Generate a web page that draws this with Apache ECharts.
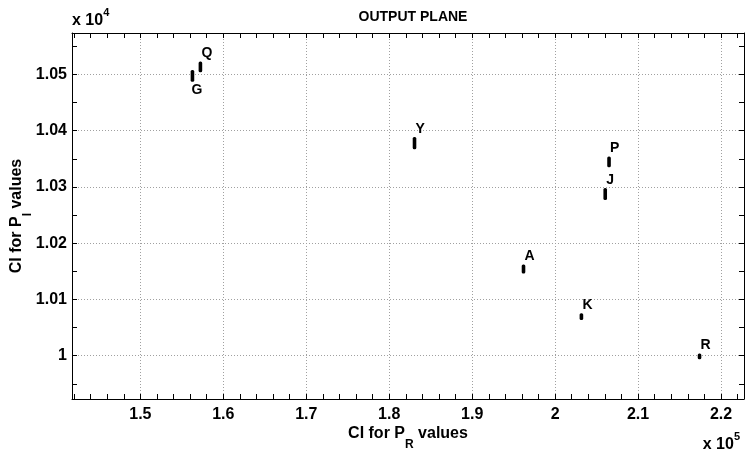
<!DOCTYPE html>
<html>
<head>
<meta charset="utf-8">
<script src="https://cdn.jsdelivr.net/npm/echarts@6.0.0/dist/echarts.min.js"></script>
<style>
    html, body { margin: 0; padding: 0; background: #fff; }
    #chart { width: 745px; height: 455px; }
</style>
</head>
<body>
<div id="chart"></div>
<script>
// points on the output plane (CI intervals)
var names = ['G', 'Q', 'Y', 'P', 'J', 'A', 'K', 'R'];
var ciPR = [156280, 157240, 183050, 206500, 206040, 196190, 203170, 217410];
var ciPILow = [10487, 10504, 10367, 10335, 10277, 10146, 10063.5, 9993.6];
var ciPIHigh = [10508, 10523, 10389, 10354, 10298, 10162, 10075.4, 10004];
var labelBelow = [true, false, false, false, false, false, false, false];

var xMajor = [150000, 160000, 170000, 180000, 190000, 200000, 210000, 220000];
var yMajor = [10000, 10100, 10200, 10300, 10400, 10500];

var xMin = 141760, xMax = 222770;
var yMin = 9923, yMax = 10573.8;

var xTicks = [];
for (var v = 142000; v <= 222000; v += 2000) xTicks.push(v);
var yTicks = [];
for (v = 9950; v <= 10550; v += 50) yTicks.push(v);

var fontName = '"Liberation Sans", Arial, sans-serif';

var data = [];
for (var i = 0; i < names.length; i++) {
    data.push([ciPR[i], ciPILow[i], ciPIHigh[i]]);
}

function boxAxis(pos, min, max, ticks, labels, fmt) {
    return {
        type: 'value',
        position: pos,
        min: min,
        max: max,
        axisLine: { show: true, onZero: false, lineStyle: { color: '#000', width: 1 } },
        axisTick: { show: true, inside: true, length: 5, customValues: ticks, lineStyle: { color: '#000' } },
        axisLabel: labels ? {
            show: true,
            customValues: labels,
            formatter: fmt,
            color: '#000',
            fontSize: 16,
            fontWeight: 'bold',
            fontFamily: fontName,
            margin: pos === 'bottom' ? 8 : 5
        } : { show: false },
        splitLine: { show: false }
    };
}

function gridAxis(pos, min, max, majors) {
    return {
        type: 'value',
        position: pos,
        min: min,
        max: max,
        axisLine: { show: false },
        axisTick: { show: false, customValues: majors },
        axisLabel: { show: false },
        splitLine: { show: true, lineStyle: { color: '#a0a0a0', width: 1, type: [1, 2] } }
    };
}

var xFmt = function (val) { return String(+(val / 1e5).toFixed(2)); };
var yFmt = function (val) { return String(+(val / 1e4).toFixed(2)); };

var nameRich = {
    a: { fontSize: 16, fontWeight: 'bold', fontFamily: fontName, color: '#000', lineHeight: 25, verticalAlign: 'top' },
    s: { fontSize: 12, fontWeight: 'bold', fontFamily: fontName, color: '#000', lineHeight: 14, verticalAlign: 'bottom' }
};

var xBottom = boxAxis('bottom', xMin, xMax, xTicks, xMajor, xFmt);
xBottom.name = '{a|CI for P}{s|R}{a| values}';
xBottom.nameLocation = 'middle';
xBottom.nameGap = 27;
xBottom.nameMoveOverlap = false;
xBottom.nameTextStyle = { color: '#000', fontFamily: fontName, rich: nameRich };

var yLeft = boxAxis('left', yMin, yMax, yTicks, yMajor, yFmt);
yLeft.name = '{a|CI for P}{s|I}{a| values}';
yLeft.nameLocation = 'middle';
yLeft.nameGap = 38;
yLeft.nameRotate = 90;
yLeft.nameMoveOverlap = false;
yLeft.nameTextStyle = { color: '#000', fontFamily: fontName, rich: nameRich };

var expRich = {
    a: { fontSize: 16, fontWeight: 'bold', fontFamily: fontName, fill: '#000', lineHeight: 22, verticalAlign: 'bottom' },
    s: { fontSize: 11, fontWeight: 'bold', fontFamily: fontName, fill: '#000', lineHeight: 12, verticalAlign: 'top' }
};

var chart = echarts.init(document.getElementById('chart'));

var option = {
    backgroundColor: '#fff',
    animation: false,
    title: {
        text: 'OUTPUT PLANE',
        left: 408,
        top: 5,
        textAlign: 'center',
        textStyle: { fontSize: 14, fontWeight: 'bold', fontFamily: fontName, color: '#000' }
    },
    grid: { left: 72, top: 33, right: 1, bottom: 56, containLabel: false, outerBoundsMode: 'none' },
    xAxis: [
        xBottom,
        boxAxis('top', xMin, xMax, xTicks, null),
        gridAxis('bottom', xMin, xMax, xMajor)
    ],
    yAxis: [
        yLeft,
        boxAxis('right', yMin, yMax, yTicks, null),
        gridAxis('left', yMin, yMax, yMajor)
    ],
    graphic: [
        {
            type: 'text',
            left: 72,
            top: 7,
            style: { text: '{a|x 10}{s|4}', rich: expRich }
        },
        {
            type: 'text',
            right: 5,
            top: 431,
            style: { text: '{a|x 10}{s|5}', rich: expRich }
        }
    ],
    series: [{
        type: 'custom',
        xAxisIndex: 0,
        yAxisIndex: 0,
        clip: false,
        data: data,
        renderItem: function (params, api) {
            var idx = params.dataIndex;
            var pLo = api.coord([api.value(0), api.value(1)]);
            var pHi = api.coord([api.value(0), api.value(2)]);
            var below = labelBelow[idx];
            return {
                type: 'group',
                children: [
                    {
                        type: 'rect',
                        shape: { x: pLo[0] - 1.8, y: pHi[1], width: 3.6, height: pLo[1] - pHi[1], r: 1.5 },
                        style: { fill: '#000' }
                    },
                    {
                        type: 'text',
                        x: below ? pLo[0] - 1 : pHi[0] + 1,
                        y: below ? pLo[1] + 1 : pHi[1] - 1,
                        style: {
                            text: names[idx],
                            fill: '#000',
                            font: 'bold 14px ' + fontName,
                            align: 'left',
                            verticalAlign: below ? 'top' : 'bottom'
                        }
                    }
                ]
            };
        }
    }]
};

chart.setOption(option);
window.onresize = function () { chart.resize(); };
</script>
</body>
</html>
